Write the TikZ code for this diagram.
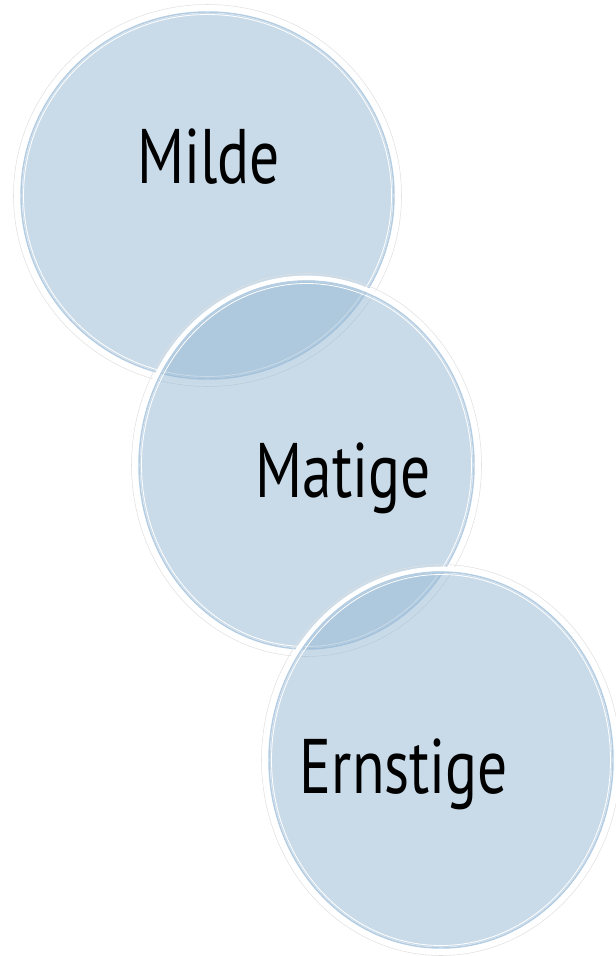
\documentclass[tikz,border=0pt]{standalone}
\usepackage{fontspec}
\newfontfamily\labelfont[FakeStretch=0.77]{PT Sans}
\definecolor{bubbleblue}{RGB}{147,183,211}
\definecolor{rimblue}{RGB}{180,205,226}
\tikzset{
  bubblefill/.style={fill=bubbleblue, fill opacity=0.5, draw=none},
  rimline/.style={draw=rimblue, line width=1.1pt},
  rimwhite/.style={draw=white, line width=0.6pt},
  rimband/.style={draw=white, line width=3.6pt},
  rimshade/.style={draw=black!12, line width=0.4pt},
  bubbletext/.style={anchor=base, inner sep=0.75pt, font=\labelfont\fontsize{58}{60}\selectfont}
}
\begin{document}
\begin{tikzpicture}[x=0.75pt,y=0.75pt,yscale=-1,xscale=1]
\useasboundingbox (0,0) rectangle (616,956);
\coordinate (c1) at (207.5,195.5);
\coordinate (c2) at (306.5,465);
\coordinate (c3) at (441,760);
% Milde circle
\fill[bubblefill] (c1) ellipse [x radius=185.5, y radius=182.5];
\draw[rimshade] (c1) ellipse [x radius=194, y radius=191];
\draw[rimband] (c1) ellipse [x radius=189.5, y radius=186.5];
\draw[rimline] (c1) ellipse [x radius=186.5, y radius=183.5];
\draw[rimwhite] (c1) ellipse [x radius=184, y radius=181];
% Matige circle
\fill[bubblefill] (c2) ellipse [x radius=166.5, y radius=183];
\draw[rimshade] (c2) ellipse [x radius=175, y radius=191.5];
\draw[rimband] (c2) ellipse [x radius=170.5, y radius=187];
\draw[rimline] (c2) ellipse [x radius=167.5, y radius=184];
\draw[rimwhite] (c2) ellipse [x radius=165, y radius=181.5];
% Ernstige circle
\fill[bubblefill] (c3) ellipse [x radius=171, y radius=187];
\draw[rimshade] (c3) ellipse [x radius=179.5, y radius=195.5];
\draw[rimband] (c3) ellipse [x radius=175, y radius=191];
\draw[rimline] (c3) ellipse [x radius=172, y radius=188];
\draw[rimwhite] (c3) ellipse [x radius=169.5, y radius=185.5];
% Text Node
\node (milde) at (208.5,183) [bubbletext] {Milde};
% Text Node
\node (matige) at (343,497) [bubbletext] {Matige};
% Text Node
\node (ernstige) at (404,793) [bubbletext] {Ernstige};
\end{tikzpicture}
\end{document}
